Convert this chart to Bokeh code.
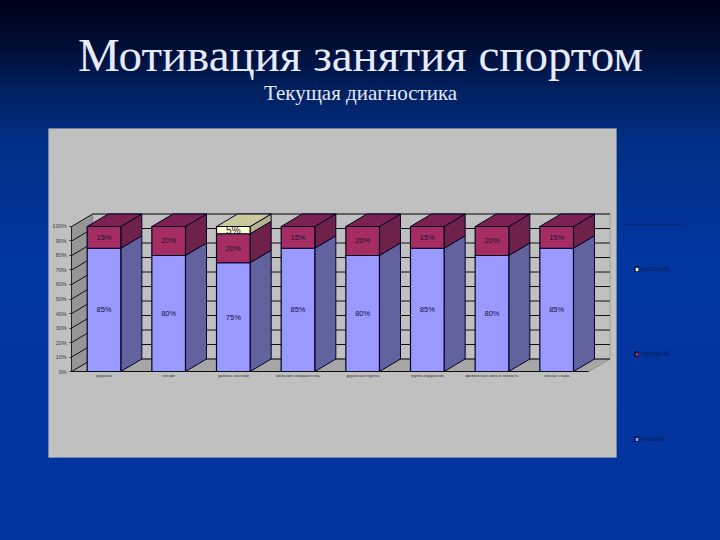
from bokeh.plotting import figure
from bokeh.embed import file_html
from bokeh.resources import INLINE
from bokeh.core.properties import value
from bokeh.models import (BoxAnnotation, ColumnDataSource, FixedTicker, GlobalInlineStyleSheet,
                          Label, Legend, LegendItem, LinearAxis, PrintfTickFormatter, Range1d)

categories = ["здоровье", "чтение", "уровень занятий", "желание совершенства",
              "дружеская группа", "группа окружения", "физическая сила и ловкость", "личная слава"]
low = [85, 80, 75, 85, 80, 85, 80, 85]
mid = [15, 20, 20, 15, 20, 15, 20, 15]
high = [0, 0, 5, 0, 0, 0, 0, 0]
series_names = ["низкий", "средний", "высокий"]
y_ticks = [0, 10, 20, 30, 40, 50, 60, 70, 80, 90, 100]

FRONT = ["#9999FF", "#A52D62", "#FFFFCC"]
SIDE = ["#62629F", "#6E2149", "#B4B48C"]
TOP = ["#7A7ACC", "#7B2250", "#C9C99C"]
EDGE = "#000028"
DX, DY, W = 0.325, 8.6, 0.52
XS = list(range(1, 9))

p = figure(width=720, height=540, output_backend="svg", toolbar_location=None,
           x_range=Range1d(-0.6006, 10.534), y_range=Range1d(-116.55, 255.86),
           x_axis_type=None, y_axis_type=None,
           min_border_left=0, min_border_right=0, min_border_top=0, min_border_bottom=0)
p.background_fill_alpha = 0
p.border_fill_alpha = 0
p.outline_line_alpha = 0
p.grid.visible = False
p.stylesheets = [GlobalInlineStyleSheet(css="""html,body{overflow:hidden;background:linear-gradient(180deg,#00001a 0,#000d33 45px,#01205f 90px,#012f85 140px,#0236a0 260px,#0234a0 540px) no-repeat;background-size:720px 540px;}""")]

# slide panel and rule beside the legend (screen units are measured from the lower left)
p.add_layout(BoxAnnotation(left=48, right=616, top=412, bottom=83, left_units="screen", right_units="screen",
                           top_units="screen", bottom_units="screen", fill_color="#C0C0C0", fill_alpha=1,
                           line_color="#A4A4A4", line_width=1, level="underlay"))
p.add_layout(BoxAnnotation(left=51, right=613, top=409, bottom=86, left_units="screen", right_units="screen",
                           top_units="screen", bottom_units="screen", fill_alpha=0,
                           line_color="#CDCDCD", line_width=1, level="underlay"))
p.add_layout(BoxAnnotation(left=622, right=684, top=316.5, bottom=315.5, left_units="screen", right_units="screen",
                           top_units="screen", bottom_units="screen", fill_color="#0E2A70", fill_alpha=1,
                           line_alpha=0, level="underlay"))

# walls and floor
xa, xb = 0.5, 8.5
p.patch([xa + DX, xb + DX, xb + DX, xa + DX], [DY, DY, 100 + DY, 100 + DY], fill_color="#C0C0C0", line_color="#808080", line_width=0.5)
p.patch([xa, xa + DX, xa + DX, xa], [0, DY, 100 + DY, 100], fill_color="#969696", line_color="#808080", line_width=0.5)
p.patch([xa, xb, xb + DX, xa + DX], [0, 0, DY, DY], fill_color="#A6A6A6", line_color="#707070", line_width=0.5)
p.segment([xa + DX] * 11, [t + DY for t in y_ticks], [xb + DX] * 11, [t + DY for t in y_ticks], line_color="#101010", line_width=1)
p.segment([xa] * 11, y_ticks, [xa + DX] * 11, [t + DY for t in y_ticks], line_color="#101010", line_width=1)

# 3D faces
for i, vals in enumerate([low, mid, high]):
    base = [sum(s[k] for s in [low, mid, high][:i]) for k in range(8)]
    sx, sy, tx, ty = [], [], [], []
    for k, x in enumerate(XS):
        if vals[k] == 0:
            continue
        r, l = x + W / 2, x - W / 2
        b, t = base[k], base[k] + vals[k]
        sx.append([r, r + DX, r + DX, r]); sy.append([b, b + DY, t + DY, t])
        if t >= 100:
            tx.append([l, r, r + DX, l + DX]); ty.append([t, t, t + DY, t + DY])
    p.patches(sx, sy, fill_color=SIDE[i], line_color=EDGE, line_width=1)
    if tx:
        p.patches(tx, ty, fill_color=TOP[i], line_color=EDGE, line_width=1)

src = ColumnDataSource(dict(x=XS, low=low, mid=mid, high=high))
rs = p.vbar_stack(["low", "mid", "high"], x="x", width=W, source=src, color=FRONT, line_color=EDGE, line_width=1.2)

# data labels
for i, vals in enumerate([low, mid, high]):
    base = [sum(s[k] for s in [low, mid, high][:i]) for k in range(8)]
    lx = [x for x, v in zip(XS, vals) if v]
    ly = [b + v / 2 for b, v in zip(base, vals) if v]
    lt = [f"{v}%" for v in vals if v]
    p.text(lx, ly, lt, text_align="center", text_baseline="middle",
           text_font_size="10px" if i == 2 else "7.5px", text_color="#14143C", text_font=value("Liberation Sans"))

yax = LinearAxis(ticker=FixedTicker(ticks=y_ticks), formatter=PrintfTickFormatter(format="%d%%"),
                 fixed_location=0.5, bounds=(0, 100))
yax.major_label_text_font_size = "5.5px"
yax.major_label_text_color = "#3A3A3A"
yax.major_label_text_font = "Liberation Sans"
yax.axis_line_color = "#202020"
yax.major_tick_line_color = "#202020"
yax.major_tick_out = 2
yax.major_tick_in = 0
yax.minor_tick_line_color = None
yax.major_label_standoff = 3
p.add_layout(yax, "left")

xax = LinearAxis(ticker=FixedTicker(ticks=XS), major_label_overrides={x: c for x, c in zip(XS, categories)},
                 fixed_location=0, bounds=(0.5, 8.5))
xax.major_label_text_font_size = "4px"
xax.major_label_text_color = "#333333"
xax.major_label_text_font = "Liberation Sans"
xax.axis_line_color = "#101010"
xax.axis_line_width = 1.2
xax.major_tick_in = 0
xax.major_tick_out = 0
xax.major_tick_line_color = None
xax.minor_tick_line_color = None
xax.major_label_standoff = 1
p.add_layout(xax, "below")

legend = Legend(items=[LegendItem(label=series_names[i], renderers=[rs[i]]) for i in (2, 1, 0)],
                location=(634, 97), orientation="vertical", spacing=76, padding=0, margin=0,
                glyph_width=5, glyph_height=6, label_height=6, label_width=32, label_standoff=2,
                label_text_font_size="7.5px", label_text_color="#0A1F5C", label_text_font="Liberation Sans",
                background_fill_alpha=0, border_line_alpha=0)
p.add_layout(legend)

p.add_layout(Label(x=360, y=486, x_units="screen", y_units="screen", text="Мотивация занятия спортом",
                   text_font="Liberation Serif", text_font_size="47px", text_color="#E6EAFA",
                   text_align="center", text_baseline="middle"))
p.add_layout(Label(x=360, y=448, x_units="screen", y_units="screen", text="Текущая диагностика",
                   text_font="Liberation Serif", text_font_size="21px", text_color="#E6EAFA",
                   text_align="center", text_baseline="middle"))

open("out.html", "w").write(file_html(p, INLINE))
